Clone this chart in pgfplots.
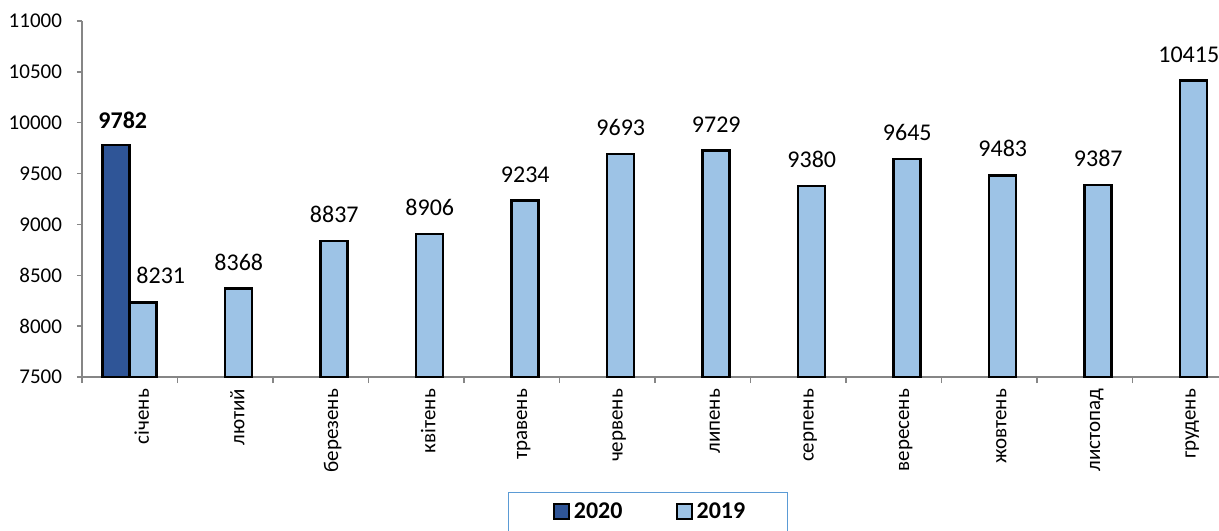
\documentclass[border=0pt]{standalone}
\usepackage{fontspec}
\setmainfont{Carlito}
\usepackage{pgfplots}
\pgfplotsset{compat=1.18}
\definecolor{darkbar}{HTML}{2F5597}
\definecolor{lightbar}{HTML}{9DC3E6}
\definecolor{legblue}{HTML}{5B9BD5}
\definecolor{axgray}{HTML}{868686}

\pgfplotsset{
  sqlegend/.style={legend image code/.code={\path (0pt,0pt); \draw[##1,line width=0.9pt] (3pt,-3.75pt) rectangle (10.5pt,3.75pt);}},
  barA/.style={ybar, bar width=13.5pt, bar shift=-6.75pt, fill=darkbar, draw=black, line width=1.25pt, sqlegend, nodes near coords},
  barB/.style={ybar, bar width=13.5pt, bar shift=6.75pt, fill=lightbar, draw=black, line width=1.25pt, sqlegend, nodes near coords},
  lab/.style={every node near coord/.append style={anchor=south, inner sep=0pt, black, font=\fontsize{12}{14}\selectfont, #1}},
}

\begin{document}
\begin{tikzpicture}
\begin{axis}[
  scale only axis,
  width=568.5pt, height=178pt,
  xmin=-0.5, xmax=11.406,
  ymin=7500, ymax=11000,
  ytick={7500,8000,...,11000},
  scaled y ticks=false,
  /pgf/number format/1000 sep={},
  /pgf/number format/assume math mode=true,
  axis x line*=bottom, axis y line*=left,
  axis line style={axgray, line width=0.75pt},
  tick style={axgray, line width=0.75pt},
  tick align=outside,
  major tick length=2.5pt,
  minor tick length=3pt,
  xtick={0,...,11},
  xticklabels={січень,лютий,березень,квітень,травень,червень,липень,серпень,вересень,жовтень,листопад,грудень},
  major x tick style={draw=none},
  minor xtick={-0.5,0.5,...,10.5},
  x tick label style={rotate=90, anchor=east, font=\fontsize{10.5}{12}\selectfont, yshift=-6pt},
  y tick label style={font=\fontsize{10.5}{12}\selectfont, xshift=-4pt},
  legend columns=2,
  legend style={at={(0.4978,0)}, anchor=north, yshift=-57.5pt, draw=legblue, line width=0.5pt,
    font=\fontsize{12}{14}\selectfont\bfseries, inner xsep=19.25pt, inner ysep=3pt,
    /tikz/every even column/.append style={column sep=21.5pt}},
]
% 2020
\addplot[barA, lab={font=\fontsize{12}{14}\selectfont\bfseries, xshift=-3.5pt, yshift=7.5pt}]
  coordinates {(0,9782)};
\addlegendentry{2020}
% 2019, February to November
\addplot[barB, lab={xshift=6.75pt, yshift=8.5pt}]
  coordinates {(1,8368) (2,8837) (3,8906) (4,9234) (5,9693) (6,9729) (7,9380) (8,9645) (9,9483) (10,9387)};
\addlegendentry{2019\hspace{-3pt}}
% 2019, January
\addplot[barB, forget plot, lab={xshift=15.5pt, yshift=9pt}]
  coordinates {(0,8231)};
% 2019, December
\addplot[barB, forget plot, lab={xshift=4.25pt, yshift=8.5pt}]
  coordinates {(11,10415)};
\end{axis}
\pgfresetboundingbox
\useasboundingbox ([xshift=-41pt,yshift=10.5pt]current axis.north west) rectangle ([yshift=-76.5pt]current axis.south east);
\end{tikzpicture}
\end{document}
